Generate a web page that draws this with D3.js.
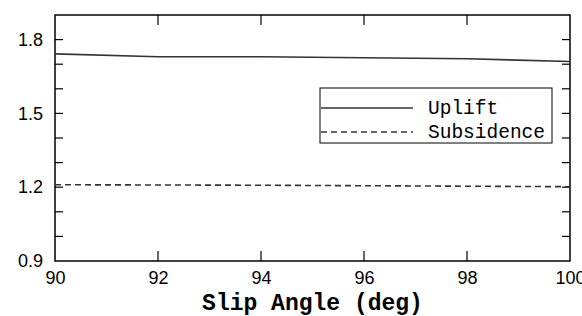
<!DOCTYPE html>
<html>
<head>
<meta charset="utf-8">
<script src="https://cdn.jsdelivr.net/npm/d3@7"></script>
<style>
  body { margin: 0; background: #fff; }
  svg { display: block; }
</style>
</head>
<body>
<div id="chart"></div>
<script>
// data
const slipAngle = [90, 92, 94, 96, 98, 100];
const uplift = [1.742, 1.730, 1.730, 1.726, 1.722, 1.711];
const subsidence = [1.210, 1.209, 1.208, 1.206, 1.204, 1.202];
const xTicks = [90, 92, 94, 96, 98, 100];
const yMajorTicks = [0.9, 1.2, 1.5, 1.8];
const yMinorTicks = [1.0, 1.1, 1.3, 1.4, 1.6, 1.7];

const width = 582, height = 316;
const margin = { top: 15, right: 12, bottom: 55, left: 55 };
const iw = width - margin.left - margin.right;
const ih = height - margin.top - margin.bottom;

const svg = d3.select("#chart").append("svg")
  .attr("width", width).attr("height", height);
const g = svg.append("g").attr("transform", `translate(${margin.left},${margin.top})`);

const x = d3.scaleLinear().domain([90, 100]).range([0, iw]);
const y = d3.scaleLinear().domain([0.9, 1.9]).range([ih, 0]);

const tickFont = "'Liberation Sans', Arial, sans-serif";
const monoFont = "'Liberation Mono', 'Courier New', monospace";

// bottom axis labels
const xb = g.append("g").attr("transform", `translate(0,${ih})`)
  .call(d3.axisBottom(x).tickValues(xTicks).tickSize(0).tickPadding(10).tickFormat(d3.format("d")));
xb.select(".domain").remove();
xb.selectAll("text").attr("font-family", tickFont).attr("font-size", 18).attr("fill", "#000");

// left axis labels
const yl = g.append("g")
  .call(d3.axisLeft(y).tickValues(yMajorTicks).tickSize(0).tickPadding(12).tickFormat(d3.format(".1f")));
yl.select(".domain").remove();
yl.selectAll("text").attr("font-family", tickFont).attr("font-size", 18).attr("fill", "#000");

// inward ticks on all four sides
const innerX = xTicks.slice(1, -1);
const yAll = yMajorTicks.concat(yMinorTicks).filter(v => v > 0.9);
const ticks = g.append("g").attr("stroke", "#000").attr("stroke-width", 1.2);
ticks.selectAll(".xt-b").data(innerX).join("line").attr("class", "xt-b")
  .attr("x1", d => x(d)).attr("x2", d => x(d)).attr("y1", ih).attr("y2", ih - 10);
ticks.selectAll(".xt-t").data(innerX).join("line").attr("class", "xt-t")
  .attr("x1", d => x(d)).attr("x2", d => x(d)).attr("y1", 0).attr("y2", 10);
ticks.selectAll(".yt-l").data(yAll).join("line").attr("class", "yt-l")
  .attr("x1", 0).attr("x2", 8).attr("y1", d => y(d)).attr("y2", d => y(d));
ticks.selectAll(".yt-r").data(yAll).join("line").attr("class", "yt-r")
  .attr("x1", iw).attr("x2", iw - 8).attr("y1", d => y(d)).attr("y2", d => y(d));

// frame
g.append("rect").attr("width", iw).attr("height", ih)
  .attr("fill", "none").attr("stroke", "#000").attr("stroke-width", 1.5);

// lines
const line = d3.line().x((d, i) => x(slipAngle[i])).y(d => y(d));
g.append("path").datum(uplift).attr("d", line)
  .attr("fill", "none").attr("stroke", "#333").attr("stroke-width", 1.6);
g.append("path").datum(subsidence).attr("d", line)
  .attr("fill", "none").attr("stroke", "#333").attr("stroke-width", 1.6)
  .attr("stroke-dasharray", "6,4");

// x label
svg.append("text")
  .attr("x", margin.left + iw / 2).attr("y", 310)
  .attr("text-anchor", "middle")
  .attr("font-family", monoFont)
  .attr("font-weight", "bold").attr("font-size", 23)
  .text("Slip Angle (deg)");

// legend
const legend = svg.append("g").attr("transform", "translate(320,88)");
legend.append("rect").attr("width", 232).attr("height", 55)
  .attr("fill", "#fff").attr("stroke", "#000").attr("stroke-width", 1);
const legItems = [
  { name: "Uplift", dash: null },
  { name: "Subsidence", dash: "6,4" }
];
legItems.forEach((it, i) => {
  const yy = 20 + i * 24;
  legend.append("line").attr("x1", 1).attr("x2", 93).attr("y1", yy).attr("y2", yy)
    .attr("stroke", "#333").attr("stroke-width", 1.6)
    .attr("stroke-dasharray", it.dash);
  legend.append("text").attr("x", 108).attr("y", yy + 6)
    .attr("font-family", monoFont)
    .attr("font-size", 19.5).attr("fill", "#000")
    .text(it.name);
});
</script>
</body>
</html>
